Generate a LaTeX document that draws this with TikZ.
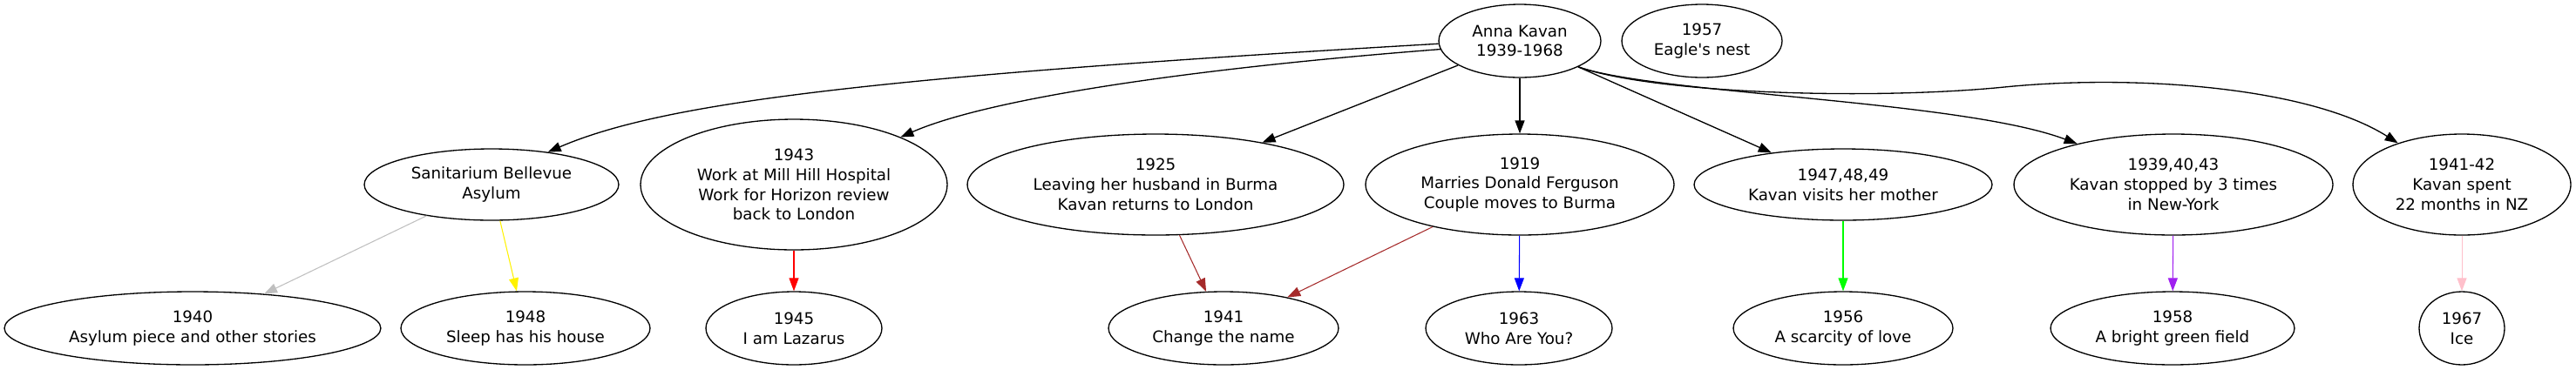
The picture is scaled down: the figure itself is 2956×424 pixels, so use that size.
\documentclass[tikz,border=0pt]{standalone}
\usepackage{fontspec}
\setmainfont{DejaVu Sans}
\usepackage{tikz}
\usetikzlibrary{arrows.meta,shapes.geometric}

\definecolor{gvbrown}{HTML}{A52A2A}
\definecolor{gvpurple}{HTML}{A020F0}
\definecolor{gvpink}{HTML}{FFC0CB}

\begin{document}
\begin{tikzpicture}[x=0.02cm,y=-0.02cm,>={Triangle[length=3mm,width=2.2mm]},
    ev/.style={ellipse,draw,line width=0.75pt,inner sep=0pt,align=center,
        font=\fontsize{10.4}{13}\selectfont},
    tie/.style={->,line width=0.75pt},
    lk/.style={->,line width=0.6pt}]
    \useasboundingbox (0,0) rectangle (2956,424);

    \node[ev,minimum width=3.72cm,minimum height=1.68cm] (ak) at (1744,47) {Anna Kavan\\1939-1968};
    \node[ev,minimum width=3.68cm,minimum height=1.68cm] (eagle) at (1953,47) {1957\\Eagle\textquotesingle s nest};

    \node[ev,minimum width=5.84cm,minimum height=1.64cm] (sana) at (564,212) {Sanitarium Bellevue\\Asylum};
    \node[ev,minimum width=7.04cm,minimum height=3.0cm] (y1943) at (911,212) {1943\\Work at Mill Hill Hospital\\Work for Horizon review\\back to London};
    \node[ev,minimum width=8.64cm,minimum height=2.32cm] (y1925) at (1326,212) {1925\\Leaving her husband in Burma\\Kavan returns to London};
    \node[ev,minimum width=7.08cm,minimum height=2.32cm] (y1919) at (1744,212) {1919\\Marries Donald Ferguson\\Couple moves to Burma};
    \node[ev,minimum width=6.84cm,minimum height=1.64cm] (y1947) at (2115,212) {1947,48,49\\Kavan visits her mother};
    \node[ev,minimum width=7.32cm,minimum height=2.32cm] (y1939) at (2494,212) {1939,40,43\\Kavan stopped by 3 times\\in New-York};
    \node[ev,minimum width=5.0cm,minimum height=2.32cm] (y1941b) at (2825,212) {1941-42\\Kavan spent\\22 months in NZ};

    \node[ev,minimum width=8.64cm,minimum height=1.68cm] (y1940) at (221,377) {1940\\Asylum piece and other stories};
    \node[ev,minimum width=5.72cm,minimum height=1.68cm] (y1948) at (603,377) {1948\\Sleep has his house};
    \node[ev,minimum width=4.04cm,minimum height=1.68cm] (y1945) at (911,377) {1945\\I am Lazarus};
    \node[ev,minimum width=5.28cm,minimum height=1.68cm] (y1941) at (1404,377) {1941\\Change the name};
    \node[ev,minimum width=4.28cm,minimum height=1.68cm] (y1963) at (1743,377) {1963\\Who Are You?};
    \node[ev,minimum width=5.04cm,minimum height=1.68cm] (y1956) at (2115,377) {1956\\A scarcity of love};
    \node[ev,minimum width=5.6cm,minimum height=1.68cm] (y1958) at (2493,377) {1958\\A bright green field};
    \node[ev,minimum width=1.96cm,minimum height=1.68cm] (y1967) at (2825,377) {1967\\Ice};

    \draw[tie] (ak.182) .. controls (1000,88) and (760,118) .. (sana.30);
    \draw[tie] (ak.186) .. controls (1350,80) and (1130,115) .. (y1943.24);
    \draw[tie] (ak) -- (y1925);
    \draw[tie] (ak) -- (y1919);
    \draw[tie] (ak) -- (y1947);
    \draw[tie] (ak.-24) .. controls (1900,108) and (2250,115) .. (y1939.157);
    \draw[tie] (ak.-24) .. controls (1900,108) and (2150,115) .. (2300,100)
        .. controls (2450,85) and (2650,100) .. (y1941b.147);

    \draw[lk,lightgray] (sana) -- (y1940);
    \draw[lk,yellow] (sana) -- (y1948);
    \draw[lk,red] (y1943) -- (y1945);
    \draw[lk,gvbrown] (y1925) -- (y1941);
    \draw[lk,gvbrown] (y1919) -- (y1941);
    \draw[lk,blue] (y1919) -- (y1963);
    \draw[lk,green] (y1947) -- (y1956);
    \draw[lk,gvpurple] (y1939) -- (y1958);
    \draw[lk,gvpink] (y1941b) -- (y1967);
\end{tikzpicture}
\end{document}
